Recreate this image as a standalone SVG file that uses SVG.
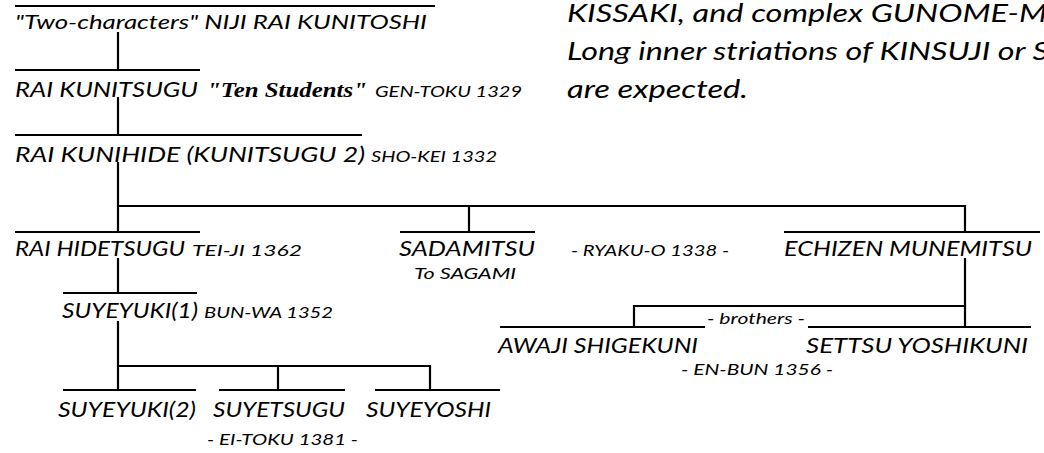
<svg xmlns="http://www.w3.org/2000/svg" width="1044" height="453" viewBox="0 0 1044 453">
<style>
.bg{fill:#fff}
.ol{stroke:#000;stroke-width:2.2;fill:none}
.cn{stroke:#000;stroke-width:2.2;fill:none}
.nm{font-family:"Lato","Noto Sans",sans-serif;font-style:italic;font-weight:400;font-size:22px;fill:#000}
.sm{font-family:"Lato","Noto Sans",sans-serif;font-style:italic;font-weight:400;font-size:16px;fill:#000}
.sf{font-family:"Liberation Serif",serif;font-style:italic;font-weight:bold;font-size:21px;fill:#000}
.pg{font-family:"Lato","Noto Sans",sans-serif;font-style:italic;font-weight:400;font-size:25px;fill:#000}
</style>
<rect class="bg" x="0" y="0" width="1044" height="453"/>
<g id="connectors">
<path class="cn" d="M118 32V70"/>
<path class="cn" d="M118 97V135"/>
<path class="cn" d="M118 162V232"/>
<path class="cn" d="M118 206H965"/>
<path class="cn" d="M469 206V232"/>
<path class="cn" d="M965 205V232"/>
<path class="cn" d="M118 258V293"/>
<path class="cn" d="M118 321V390"/>
<path class="cn" d="M118 366H430V390"/>
<path class="cn" d="M278 366V390"/>
<path class="cn" d="M965 258V327"/>
<path class="cn" d="M965 306H634V327"/>
</g>
<g id="paragraph">
<text class="pg" x="567" y="22" textLength="480" lengthAdjust="spacingAndGlyphs">KISSAKI, and complex GUNOME-M</text>
<text class="pg" x="567" y="60" textLength="482" lengthAdjust="spacingAndGlyphs">Long inner striations of KINSUJI or S</text>
<text class="pg" x="567" y="98" textLength="181" lengthAdjust="spacingAndGlyphs">are expected.</text>
</g>
<g id="n-kunitoshi">
<path class="ol" d="M15 6H435"/>
<text class="nm" x="15" y="29" style="font-size:18.5px" textLength="412" lengthAdjust="spacingAndGlyphs">"Two-characters" NIJI RAI KUNITOSHI</text>
</g>
<g id="n-kunitsugu">
<path class="ol" d="M15 70H200"/>
<text class="nm" x="15" y="97" textLength="183" lengthAdjust="spacingAndGlyphs">RAI KUNITSUGU</text>
<text class="sf" x="207" y="97" textLength="160" lengthAdjust="spacingAndGlyphs">"Ten Students"</text>
<text class="sm" x="375" y="97" textLength="147" lengthAdjust="spacingAndGlyphs">GEN-TOKU 1329</text>
</g>
<g id="n-kunihide">
<path class="ol" d="M15 135H362"/>
<text class="nm" x="15" y="162" textLength="350" lengthAdjust="spacingAndGlyphs">RAI KUNIHIDE (KUNITSUGU 2)</text>
<text class="sm" x="371" y="162" textLength="126" lengthAdjust="spacingAndGlyphs">SHO-KEI 1332</text>
</g>
<g id="n-hidetsugu">
<path class="ol" d="M15 232H200"/>
<text class="nm" x="15" y="256" textLength="170" lengthAdjust="spacingAndGlyphs">RAI HIDETSUGU</text>
<text class="sm" x="192" y="256" textLength="110" lengthAdjust="spacingAndGlyphs">TEI-JI 1362</text>
</g>
<g id="n-sadamitsu">
<path class="ol" d="M400 232H535"/>
<text class="nm" x="399" y="256" textLength="136" lengthAdjust="spacingAndGlyphs">SADAMITSU</text>
<text class="sm" x="414" y="279" textLength="102" lengthAdjust="spacingAndGlyphs">To SAGAMI</text>
</g>
<g id="l-ryakuo">
<text class="sm" x="571" y="256" textLength="158" lengthAdjust="spacingAndGlyphs">- RYAKU-O 1338 -</text>
</g>
<g id="n-munemitsu">
<path class="ol" d="M784 232H1040"/>
<text class="nm" x="784" y="256" textLength="248" lengthAdjust="spacingAndGlyphs">ECHIZEN MUNEMITSU</text>
</g>
<g id="n-suyeyuki1">
<path class="ol" d="M63 293H197"/>
<text class="nm" x="62" y="318" textLength="136" lengthAdjust="spacingAndGlyphs">SUYEYUKI(1)</text>
<text class="sm" x="204" y="318" textLength="129" lengthAdjust="spacingAndGlyphs">BUN-WA 1352</text>
</g>
<g id="l-brothers">
<text class="sm" x="707" y="324" textLength="98" lengthAdjust="spacingAndGlyphs">- brothers -</text>
</g>
<g id="n-shigekuni">
<path class="ol" d="M500 327H705"/>
<text class="nm" x="498" y="353" textLength="200" lengthAdjust="spacingAndGlyphs">AWAJI SHIGEKUNI</text>
</g>
<g id="n-yoshikuni">
<path class="ol" d="M808 327H1031"/>
<text class="nm" x="806" y="353" textLength="222" lengthAdjust="spacingAndGlyphs">SETTSU YOSHIKUNI</text>
</g>
<g id="l-enbun">
<text class="sm" x="681" y="375" textLength="152" lengthAdjust="spacingAndGlyphs">- EN-BUN 1356 -</text>
</g>
<g id="n-suyeyuki2">
<path class="ol" d="M63 390H196"/>
<text class="nm" x="58" y="417" textLength="138" lengthAdjust="spacingAndGlyphs">SUYEYUKI(2)</text>
</g>
<g id="n-suyetsugu">
<path class="ol" d="M219 390H345"/>
<text class="nm" x="213" y="417" textLength="132" lengthAdjust="spacingAndGlyphs">SUYETSUGU</text>
</g>
<g id="n-suyeyoshi">
<path class="ol" d="M375 390H500"/>
<text class="nm" x="366" y="417" textLength="125" lengthAdjust="spacingAndGlyphs">SUYEYOSHI</text>
</g>
<g id="l-eitoku">
<text class="sm" x="207" y="445" textLength="151" lengthAdjust="spacingAndGlyphs">- EI-TOKU 1381 -</text>
</g>
</svg>
